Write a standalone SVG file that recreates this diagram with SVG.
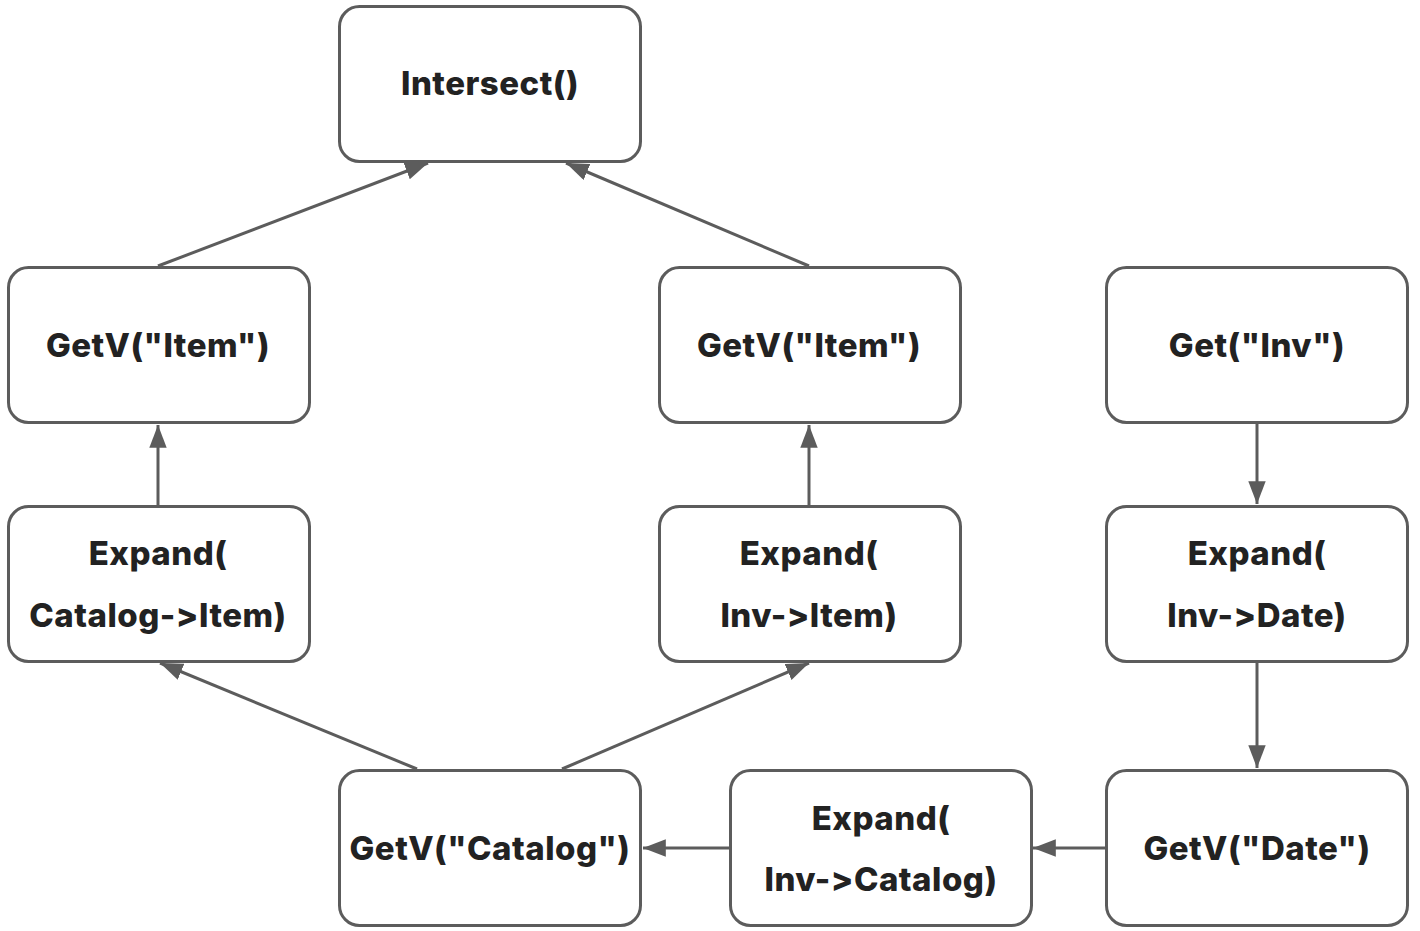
<svg xmlns="http://www.w3.org/2000/svg" width="1420" height="931" viewBox="0 0 1420 931">
<style>
.box{fill:#fff;stroke:#5c5c5c;stroke-width:3}
.t{font-family:Inter,"Liberation Sans",sans-serif;font-weight:800;font-size:33px;letter-spacing:0.5px;fill:#222;text-anchor:middle;font-feature-settings:"calt" 0,"liga" 0;font-variant-ligatures:none}
.e{stroke:#5c5c5c;stroke-width:3;fill:none;marker-end:url(#a)}
</style>
<defs>
<marker id="a" markerWidth="8" markerHeight="6" refX="7.6" refY="2.9" orient="auto" markerUnits="strokeWidth">
<path d="M0,0 L7.6,2.9 L0,5.8 Z" fill="#5c5c5c"/>
</marker>
</defs>
<g id="connectors">
<line class="e" x1="158" y1="266" x2="428" y2="163"/>
<line class="e" x1="809" y1="266" x2="566" y2="163"/>
<line class="e" x1="158" y1="505" x2="158" y2="425"/>
<line class="e" x1="809" y1="505" x2="809" y2="425"/>
<line class="e" x1="1257" y1="423" x2="1257" y2="504"/>
<line class="e" x1="1257" y1="662" x2="1257" y2="768"/>
<line class="e" x1="1105" y1="848" x2="1033" y2="848"/>
<line class="e" x1="729" y1="848" x2="643" y2="848"/>
<line class="e" x1="417" y1="769" x2="160" y2="663"/>
<line class="e" x1="562" y1="769" x2="809" y2="663"/>
</g>
<g id="intersect"><rect class="box" x="339.5" y="6.5" width="301" height="155" rx="20"/><text class="t" x="490" y="95">Intersect()</text></g>
<g id="getv-item-1"><rect class="box" x="8.5" y="267.5" width="301" height="155" rx="20"/><text class="t" x="158" y="357">GetV("Item")</text></g>
<g id="getv-item-2"><rect class="box" x="659.5" y="267.5" width="301" height="155" rx="20"/><text class="t" x="809" y="357">GetV("Item")</text></g>
<g id="get-inv"><rect class="box" x="1106.5" y="267.5" width="301" height="155" rx="20"/><text class="t" x="1257" y="357">Get("Inv")</text></g>
<g id="expand-catalog-item"><rect class="box" x="8.5" y="506.5" width="301" height="155" rx="20"/><text class="t" x="158" y="565">Expand(</text><text class="t" x="158" y="627">Catalog-&gt;Item)</text></g>
<g id="expand-inv-item"><rect class="box" x="659.5" y="506.5" width="301" height="155" rx="20"/><text class="t" x="809" y="565">Expand(</text><text class="t" x="809" y="627">Inv-&gt;Item)</text></g>
<g id="expand-inv-date"><rect class="box" x="1106.5" y="506.5" width="301" height="155" rx="20"/><text class="t" x="1257" y="565">Expand(</text><text class="t" x="1257" y="627">Inv-&gt;Date)</text></g>
<g id="getv-catalog"><rect class="box" x="339.5" y="770.5" width="301" height="155" rx="20"/><text class="t" x="490" y="860">GetV("Catalog")</text></g>
<g id="expand-inv-catalog"><rect class="box" x="730.5" y="770.5" width="301" height="155" rx="20"/><text class="t" x="881" y="830">Expand(</text><text class="t" x="881" y="891">Inv-&gt;Catalog)</text></g>
<g id="getv-date"><rect class="box" x="1106.5" y="770.5" width="301" height="155" rx="20"/><text class="t" x="1257" y="860">GetV("Date")</text></g>
</svg>
